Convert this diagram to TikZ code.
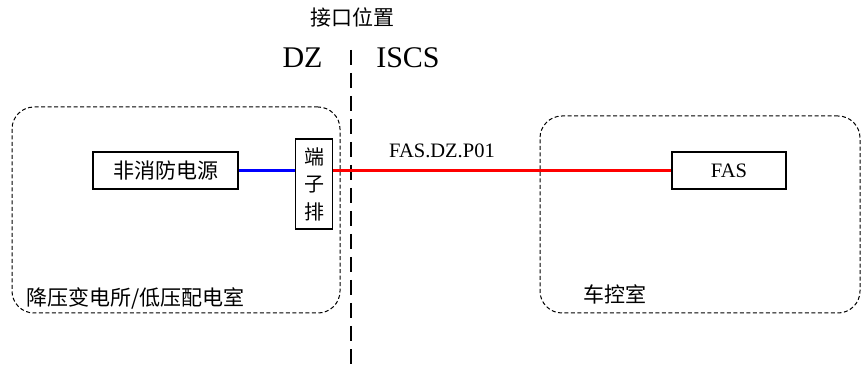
\documentclass[tikz,border=0pt]{standalone}
\usepackage{fontspec}
\setmainfont{Liberation Serif}
\newfontfamily\cjk{Noto Sans CJK SC}
\begin{document}
\begin{tikzpicture}[x=1pt,y=-1pt,
  room/.style={draw, dash pattern=on 4pt off 2.5pt, rounded corners=22pt, line width=1pt, inner sep=0, minimum width=#1},
  box/.style={draw, line width=1.6pt, inner sep=0},
  cjkt/.style={font=\cjk\fontsize{21}{24}\selectfont, inner sep=0},
  latt/.style={font=\fontsize{20.5}{24}\selectfont, inner sep=0},
  wire/.style={line width=2.2pt}]
\useasboundingbox (0,0) rectangle (862,371);
% rooms
\node[room=328pt, minimum height=206pt] (roomL) at (176,210) {};
\node[room=320pt, minimum height=197pt] (roomR) at (700,214.5) {};
% interface line
\coordinate (itop) at (351,50);
\coordinate (ibot) at (351,371);
\draw[line width=2.2pt, dash pattern=on 15pt off 8pt] (itop) -- (ibot);
% boxes
\node[box, minimum width=145pt, minimum height=37pt, cjkt] (psu) at (165.5,170.5) {非消防电源};
\node[box, minimum width=37pt, minimum height=90pt, cjkt, align=center, font=\cjk\fontsize{20}{27.5}\selectfont] (term) at (314,184) {端\\子\\排};
\node[box, minimum width=114pt, minimum height=37pt, latt] (fas) at (729,170.5) {FAS};
% wires
\draw[wire, blue] (psu.east) -- (psu.east -| term.west);
\draw[wire, red] (psu.east -| term.east) -- (fas.west);
% labels
\node[cjkt] (title) at (352,17) {接口位置};
\node[font=\fontsize{30}{34}\selectfont, inner sep=0, anchor=base] (dz) at (302.5,68) {DZ};
\node[font=\fontsize{30}{34}\selectfont, inner sep=0, anchor=base] (iscs) at (408,68) {ISCS};
\node[latt, anchor=base west] (cable) at (389,158) {FAS.DZ.P01};
\node[cjkt, anchor=west] (roomLlbl) at (26,298) {降压变电所/低压配电室};
\node[cjkt, anchor=west] (roomRlbl) at (583,294) {车控室};
\end{tikzpicture}
\end{document}
